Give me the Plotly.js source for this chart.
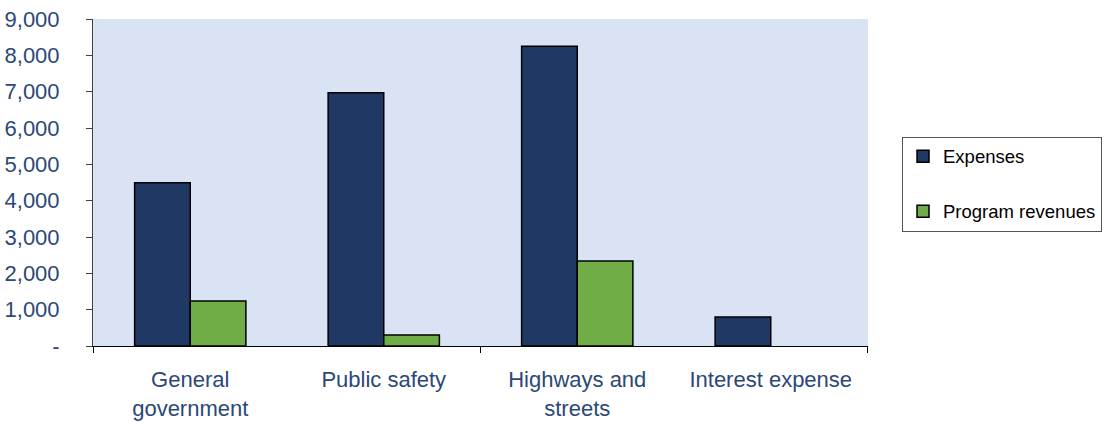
<!DOCTYPE html>
<html>
<head>
<meta charset="utf-8">
<script src="https://cdn.plot.ly/plotly-3.0.1.min.js"></script>
<style>
  html, body { margin: 0; padding: 0; background: #ffffff; }
  #chart { width: 1106px; height: 424px; }
</style>
</head>
<body>
<div id="chart"></div>
<script>
// Government activities: expenses vs. program revenues (thousands)
const categories = ['General<br>government', 'Public safety', 'Highways and<br>streets', 'Interest expense'];
const expenses = [4490, 6970, 8250, 800];
const programRevenues = [1240, 300, 2340, null];
const yTickValues = [0, 1000, 2000, 3000, 4000, 5000, 6000, 7000, 8000, 9000];
const yTickLabels = ['-', '1,000', '2,000', '3,000', '4,000', '5,000', '6,000', '7,000', '8,000', '9,000'];
// every second category boundary carries a tick mark
const boundaryTicks = [-0.5, 1.5, 3.5];

const FONT = '"Liberation Sans", Arial, sans-serif';
const TEXT = '#2C4877';

const traces = [
  {
    type: 'bar', name: 'Expenses', x: categories, y: expenses,
    legendgroup: 'a',
    marker: { color: '#1F3864', line: { color: '#000000', width: 1.5 } },
    hoverinfo: 'skip'
  },
  {
    type: 'bar', name: 'Program revenues', x: categories, y: programRevenues,
    legendgroup: 'b',
    marker: { color: '#70AD47', line: { color: '#000000', width: 1.5 } },
    hoverinfo: 'skip'
  }
];

// short tick marks below the category axis at the chosen boundaries
const tickShapes = boundaryTicks.map(b => ({
  type: 'line', xref: 'x', x0: b, x1: b,
  yref: 'paper', ysizemode: 'pixel', yanchor: 0, y0: 0, y1: -7,
  line: { color: '#000000', width: 1 }
}));

const layout = {
  width: 1106, height: 424,
  margin: { l: 93, r: 238, t: 19, b: 78, autoexpand: false },
  paper_bgcolor: '#ffffff',
  plot_bgcolor: '#DAE3F3',
  barmode: 'group',
  bargap: 0.425,
  bargroupgap: 0,
  font: { family: FONT, color: TEXT, size: 22 },
  xaxis: {
    type: 'category',
    showline: true, linecolor: '#000000', linewidth: 1,
    ticks: '', showgrid: false, zeroline: false,
    ticklabelstandoff: 14,
    tickfont: { family: FONT, size: 22, color: TEXT },
    fixedrange: true
  },
  yaxis: {
    range: [0, 9000],
    tickmode: 'array', tickvals: yTickValues, ticktext: yTickLabels,
    showline: true, linecolor: '#404040', linewidth: 1,
    ticks: 'outside', ticklen: 6, tickcolor: '#404040',
    showgrid: false, zeroline: false,
    ticklabelstandoff: 22,
    tickfont: { family: FONT, size: 22, color: TEXT },
    fixedrange: true
  },
  shapes: tickShapes,
  showlegend: true,
  legend: {
    x: 1.0439, xanchor: 'left',
    y: 0.495, yanchor: 'middle',
    bordercolor: '#555555', borderwidth: 1,
    bgcolor: '#ffffff',
    font: { family: FONT, size: 18.5, color: '#000000' },
    tracegroupgap: 28,
    traceorder: 'grouped'
  }
};

Plotly.newPlot('chart', traces, layout, { displayModeBar: false, staticPlot: true });
</script>
</body>
</html>
